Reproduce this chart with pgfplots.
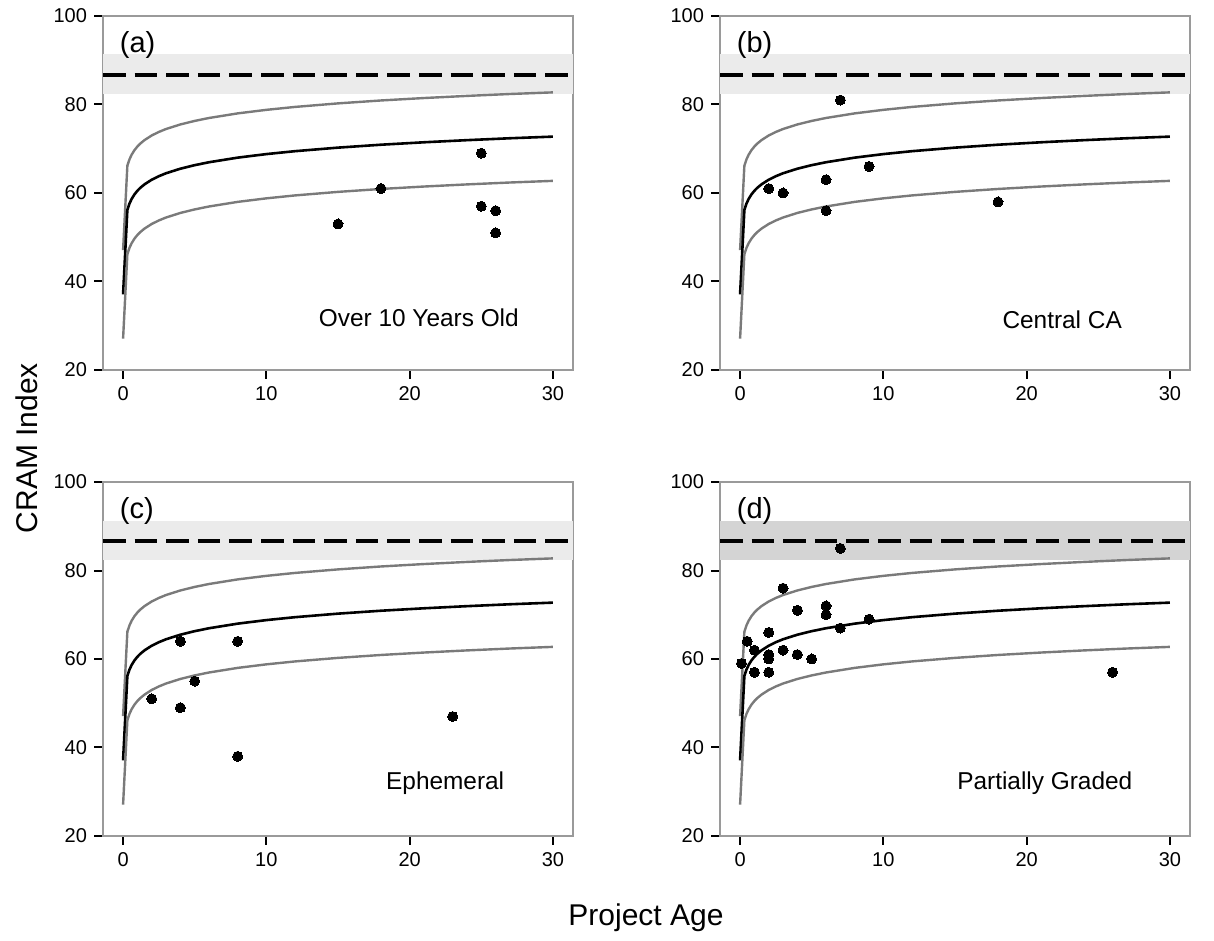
\documentclass[border=0pt]{standalone}
\usepackage{pgfplots}
\pgfplotsset{compat=1.18}
\usepackage{pgfplotstable}
\usepackage{fontspec}
\setmainfont{Liberation Sans}

\definecolor{framegray}{HTML}{9A9A9A}
\definecolor{curvegray}{HTML}{7A7A7A}
\definecolor{bandlight}{HTML}{EBEBEB}
\definecolor{banddark}{HTML}{D4D4D4}

% fitted curve with upper / lower bounds
\pgfplotstableread{
x      lo     mid    hi
0.0015 27.09  37.09  47.09
0.3    46.17  56.17  66.17
0.45   47.62  57.62  67.62
0.6    48.66  58.66  68.66
0.8    49.70  59.70  69.70
1      50.50  60.50  70.50
1.2    51.16  61.16  71.16
1.5    51.96  61.96  71.96
2      53.00  63.00  73.00
2.5    53.80  63.80  73.80
3      54.46  64.46  74.46
4      55.49  65.49  75.49
5      56.29  66.29  76.29
6      56.95  66.95  76.95
8      57.99  67.99  77.99
10     58.79  68.79  78.79
12     59.45  69.45  79.45
15     60.25  70.25  80.25
18     60.91  70.91  80.91
21     61.46  71.46  81.46
24     61.94  71.94  81.94
27     62.37  72.37  82.37
30     62.74  72.74  82.74
}\fits

\pgfplotstableread{
x  y
15 53
18 61
25 69
25 57
26 56
26 51
}\ptsA

\pgfplotstableread{
x  y
2  61
3  60
6  63
6  56
7  81
9  66
18 58
}\ptsB

\pgfplotstableread{
x  y
2  51
4  64
4  49
5  55
8  64
8  38
23 47
}\ptsC

\pgfplotstableread{
x   y
0.1 59
0.5 64
1   62
1   57
2   66
2   61
2   60
2   57
3   76
3   62
4   71
4   61
5   60
6   72
6   70
7   85
7   67
9   69
26  57
}\ptsD

\pgfplotsset{
  panel/.style={
    scale only axis, width=235pt, height=177pt,
    anchor=north west,
    xmin=-1.4, xmax=31.4, ymin=20, ymax=100,
    xtick={0,10,20,30}, ytick={20,40,60,80,100},
    xtick pos=left, ytick pos=left,
    tick align=outside, major tick length=4.5pt,
    tick style={black, line width=1pt},
    axis line style={framegray, line width=0.75pt},
    tick label style={font=\fontsize{10}{12}\selectfont},
    /pgf/number format/assume math mode=true,
  },
}
\tikzset{
  refline/.style={black, line width=2pt, dash pattern=on 11.3pt off 4.5pt},
  bound/.style={curvegray, line width=1.2pt},
  fitline/.style={black, line width=1.3pt},
  dots/.style={only marks, mark=*, mark size=2.5pt, mark options={fill=black, draw=black, line width=0pt}},
  tag/.style={anchor=west, font=\fontsize{14.5}{17}\selectfont},
  note/.style={font=\fontsize{12.2}{14}\selectfont},
}

\begin{document}
\begin{tikzpicture}
\path[use as bounding box] (0,0) rectangle (607pt,-470.5pt);

% (a)
\begin{axis}[panel, at={(51.5pt,-8pt)}]
\addplot[draw=none, fill=bandlight] coordinates {(-1.4,82.3) (31.4,82.3) (31.4,91.3) (-1.4,91.3)} -- cycle;
\addplot[refline] coordinates {(-1.4,86.7) (31.4,86.7)};
\addplot[bound] table[y=hi] {\fits};
\addplot[fitline] table[y=mid] {\fits};
\addplot[bound] table[y=lo] {\fits};
\addplot[dots] table {\ptsA};
\node[tag] at (axis description cs:0.021,0.918) {(a)};
\node[note] at (axis description cs:0.672,0.147) {Over 10 Years Old};
\end{axis}

% (b)
\begin{axis}[panel, at={(360pt,-8pt)}]
\addplot[draw=none, fill=bandlight] coordinates {(-1.4,82.3) (31.4,82.3) (31.4,91.3) (-1.4,91.3)} -- cycle;
\addplot[refline] coordinates {(-1.4,86.7) (31.4,86.7)};
\addplot[bound] table[y=hi] {\fits};
\addplot[fitline] table[y=mid] {\fits};
\addplot[bound] table[y=lo] {\fits};
\addplot[dots] table {\ptsB};
\node[tag] at (axis description cs:0.021,0.918) {(b)};
\node[note] at (axis description cs:0.728,0.141) {Central CA};
\end{axis}

% (c)
\begin{axis}[panel, at={(51.5pt,-241pt)}]
\addplot[draw=none, fill=bandlight] coordinates {(-1.4,82.3) (31.4,82.3) (31.4,91.3) (-1.4,91.3)} -- cycle;
\addplot[refline] coordinates {(-1.4,86.7) (31.4,86.7)};
\addplot[bound] table[y=hi] {\fits};
\addplot[fitline] table[y=mid] {\fits};
\addplot[bound] table[y=lo] {\fits};
\addplot[dots] table {\ptsC};
\node[tag] at (axis description cs:0.021,0.918) {(c)};
\node[note] at (axis description cs:0.728,0.150) {Ephemeral};
\end{axis}

% (d)
\begin{axis}[panel, at={(360pt,-241pt)}]
\addplot[draw=none, fill=banddark] coordinates {(-1.4,82.3) (31.4,82.3) (31.4,91.3) (-1.4,91.3)} -- cycle;
\addplot[refline] coordinates {(-1.4,86.7) (31.4,86.7)};
\addplot[bound] table[y=hi] {\fits};
\addplot[fitline] table[y=mid] {\fits};
\addplot[bound] table[y=lo] {\fits};
\addplot[dots] table {\ptsD};
\node[tag] at (axis description cs:0.021,0.918) {(d)};
\node[note] at (axis description cs:0.691,0.150) {Partially Graded};
\end{axis}

\node[rotate=90, font=\fontsize{15}{18}\selectfont] at (13.5pt,-224pt) {CRAM Index};
\node[font=\fontsize{15}{18}\selectfont] at (323pt,-459pt) {Project Age};
\end{tikzpicture}
\end{document}
